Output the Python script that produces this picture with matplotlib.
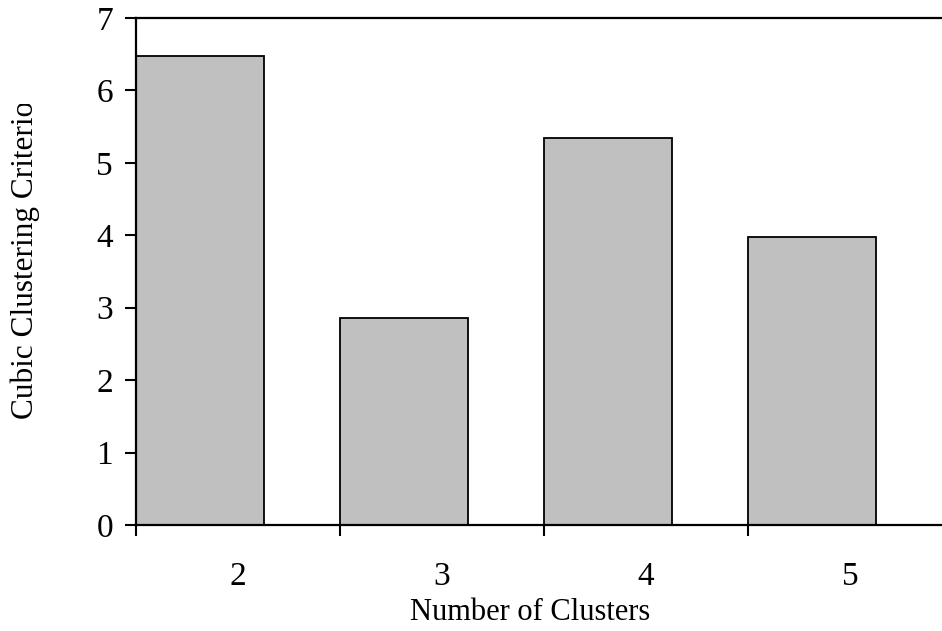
import matplotlib
matplotlib.use("Agg")
import matplotlib.pyplot as plt
from matplotlib.transforms import Bbox, TransformedBbox

clusters = ["2", "3", "4", "5"]
ccc_values = [6.47, 2.86, 5.34, 3.97]

plt.rcParams['font.family'] = ['Liberation Serif', 'DejaVu Serif']

fig = plt.figure(figsize=(9.42, 6.31), dpi=100)
ax = fig.add_axes([136 / 942, 106 / 631, 816 / 942, 507 / 631])

positions = list(range(len(clusters)))
ax.bar(positions, ccc_values, width=0.627, align='edge',
       color='#c0c0c0', edgecolor='black', linewidth=1.3)

ax.set_xlim(0, len(clusters))
ax.set_ylim(0, 7)

# ticks between categories, labels at category centres
ax.set_xticks(range(len(clusters) + 1))
ax.set_xticklabels([])
ax.set_xticks([p + 0.5 for p in positions], minor=True)
ax.set_xticklabels(clusters, minor=True)
ax.tick_params(axis='x', which='major', direction='out', length=8, width=1.5)
ax.tick_params(axis='x', which='minor', length=0, pad=26, labelsize=24)
ax.set_yticks(range(8))
ax.tick_params(axis='y', direction='out', length=8, width=1.5, pad=8.5, labelsize=24)

for side in ['top', 'left', 'bottom']:
    ax.spines[side].set_linewidth(1.6)
ax.spines['right'].set_visible(False)

fig.text(530 / 942, 11 / 631, "Number of Clusters", ha='center', va='baseline', fontsize=22)

ylab = fig.text(25 / 942, 212 / 631, "Cubic Clustering Criterion", rotation=90,
                ha='center', va='bottom', fontsize=22.5)
ylab.set_clip_box(TransformedBbox(Bbox([[0, 0], [1, 527 / 631]]), fig.transFigure))
ylab.set_clip_on(True)

fig.savefig("out.png", dpi=100)
